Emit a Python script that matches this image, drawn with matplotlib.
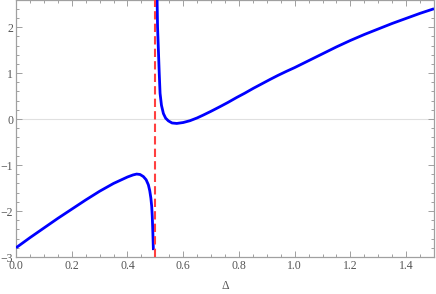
import matplotlib
matplotlib.use("Agg")
import matplotlib.pyplot as plt
from matplotlib.ticker import MultipleLocator, FuncFormatter

# Left branch (Delta < 0.5)
left_x = [0.0, 0.05, 0.1, 0.15, 0.2, 0.25, 0.3, 0.35, 0.4, 0.42, 0.433, 0.445, 0.457, 0.467, 0.475, 0.48, 0.484, 0.487, 0.489, 0.491, 0.493]
left_y = [-2.80, -2.58, -2.37, -2.16, -1.96, -1.76, -1.57, -1.40, -1.26, -1.215, -1.196, -1.205, -1.25, -1.32, -1.43, -1.56, -1.72, -1.90, -2.12, -2.45, -2.85]

# Right branch (Delta > 0.5)
right_x = [0.506, 0.508, 0.511, 0.514, 0.517, 0.522, 0.529, 0.537, 0.547, 0.56, 0.577, 0.6, 0.624, 0.65, 0.672, 0.7, 0.732, 0.76, 0.792, 0.82, 0.852, 0.88, 0.911, 0.94, 0.971, 1.0, 1.05, 1.1, 1.15, 1.2, 1.25, 1.3, 1.35, 1.4, 1.45, 1.5]
right_y = [2.70, 2.00, 1.50, 1.00, 0.56, 0.30, 0.12, 0.02, -0.04, -0.085, -0.095, -0.075, -0.036, 0.025, 0.087, 0.17, 0.27, 0.36, 0.47, 0.56, 0.67, 0.76, 0.86, 0.95, 1.04, 1.12, 1.27, 1.42, 1.57, 1.71, 1.84, 1.96, 2.08, 2.19, 2.30, 2.40]

asymptote_x = 0.5
x_range = (0.0, 1.5)
y_range = (-3.0, 2.59)
x_label = "Δ"

fig = plt.figure(figsize=(4.36, 2.94), dpi=100)
ax = fig.add_axes([16/436, (294-257)/294, 418/436, 257/294])

ax.axhline(0, color="#e0e0e0", lw=0.8, zorder=1)
ax.plot(left_x, left_y, color="#0000ff", lw=2.0, zorder=3, solid_capstyle="butt", solid_joinstyle="round")
ax.plot(right_x, right_y, color="#0000ff", lw=2.0, zorder=3, solid_capstyle="butt", solid_joinstyle="round")
ax.axvline(asymptote_x, color="#ff4040", lw=1.5, ls=(0, (4, 2)), zorder=4)

ax.set_xlim(*x_range)
ax.set_ylim(*y_range)

frame_col = "#a0a0a0"
for s in ax.spines.values():
    s.set_color(frame_col)
    s.set_linewidth(0.9)

ax.xaxis.set_major_locator(MultipleLocator(0.2))
ax.xaxis.set_minor_locator(MultipleLocator(0.05))
ax.yaxis.set_major_locator(MultipleLocator(1))
ax.yaxis.set_minor_locator(MultipleLocator(0.2))

ax.tick_params(which="both", direction="in", top=True, right=True,
               color=frame_col, width=0.7, labelcolor="#555555",
               labelsize=8.5)
ax.tick_params(which="major", length=4, pad=2)
ax.tick_params(which="minor", length=2)

for lab in ax.get_xticklabels() + ax.get_yticklabels():
    lab.set_fontfamily("Liberation Serif")

ax.xaxis.set_major_formatter(FuncFormatter(lambda v, p: f"{v:.1f}"))
ax.yaxis.set_major_formatter(FuncFormatter(lambda v, p: f"{int(round(v))}".replace("-", "\u2212")))

ax.set_xlabel(x_label, fontsize=8.5, color="#555555", family="Liberation Serif", labelpad=6)

fig.savefig("out.png", dpi=100)
